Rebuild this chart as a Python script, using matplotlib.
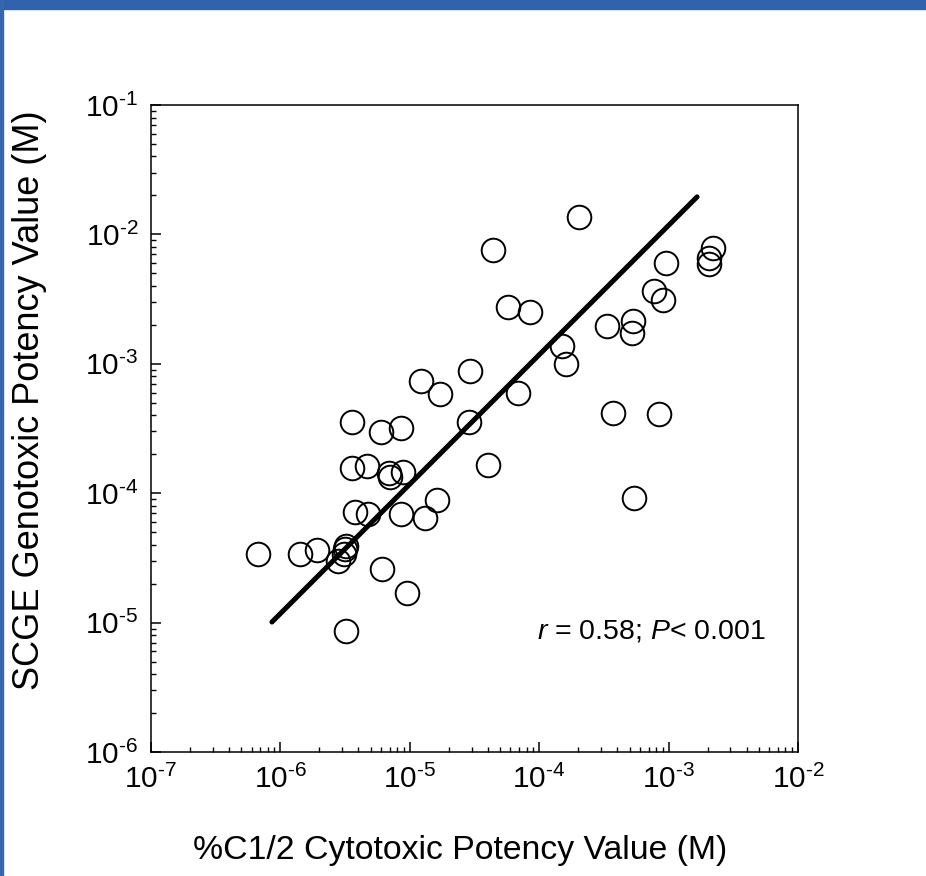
import matplotlib
matplotlib.use("Agg")
import matplotlib.pyplot as plt
from matplotlib.patches import Rectangle
from matplotlib.ticker import LogLocator, NullFormatter

plt.rcParams["font.family"] = ["Liberation Sans", "DejaVu Sans"]
plt.rcParams["mathtext.fontset"] = "custom"
plt.rcParams["mathtext.rm"] = "Liberation Sans"
plt.rcParams["mathtext.it"] = "Liberation Sans:italic"

# %C1/2 cytotoxic potency (M) vs SCGE genotoxic potency (M)
cyto = [6.7e-7, 1.42e-6, 1.92e-6, 3.21e-6, 3.15e-6, 3.10e-6, 2.79e-6, 3.21e-6,
        6.10e-6, 9.51e-6, 3.57e-6, 5.98e-6, 8.55e-6, 3.57e-6, 4.67e-6, 6.90e-6,
        7.03e-6, 8.86e-6, 4.02e-5, 3.77e-6, 4.75e-6, 8.55e-6, 1.31e-5, 1.62e-5,
        1.22e-5, 1.71e-5, 2.92e-5, 2.86e-5, 6.86e-5, 4.40e-5, 5.74e-5, 8.49e-5,
        1.50e-4, 1.61e-4, 2.03e-4, 3.34e-4, 3.72e-4, 5.31e-4, 5.21e-4, 5.41e-4,
        7.71e-4, 9.06e-4, 9.55e-4, 8.43e-4, 2.20e-3, 2.05e-3, 2.05e-3]
geno = [3.39e-5, 3.39e-5, 3.64e-5, 3.91e-5, 3.71e-5, 3.39e-5, 2.99e-5, 8.61e-6,
        2.59e-5, 1.69e-5, 3.55e-4, 2.97e-4, 3.19e-4, 1.57e-4, 1.62e-4, 1.43e-4,
        1.34e-4, 1.46e-4, 1.65e-4, 7.16e-5, 6.90e-5, 6.90e-5, 6.43e-5, 8.86e-5,
        7.36e-4, 5.84e-4, 8.80e-4, 3.55e-4, 5.94e-4, 7.57e-3, 2.75e-3, 2.51e-3,
        1.37e-3, 9.96e-4, 1.36e-2, 1.96e-3, 4.17e-4, 2.14e-3, 1.73e-3, 9.18e-5,
        3.65e-3, 3.11e-3, 6.01e-3, 4.09e-4, 7.85e-3, 6.57e-3, 5.90e-3]

# regression line end points
fit_x = [8.6e-7, 1.66e-3]
fit_y = [1.01e-5, 1.95e-2]

decades = [-7, -6, -5, -4, -3, -2]
ydecades = [-6, -5, -4, -3, -2, -1]


def dec_label(d):
    # Excel-style label with a short hyphen in the exponent
    return "10$^{\\mathregular{\u2010%d}}$" % abs(d)


fig = plt.figure(figsize=(9.26, 8.76), dpi=100)

# blue frame strips (top and left)
fig.patches.append(Rectangle((0, 1 - 9 / 876), 1, 9 / 876, transform=fig.transFigure,
                             color="#3062ad", zorder=0))
fig.patches.append(Rectangle((0, 0), 3 / 926, 1, transform=fig.transFigure,
                             color="#3567b0", zorder=0))

ax = fig.add_axes([151 / 926, 124 / 876, 647 / 926, 647 / 876])
ax.set_xscale("log")
ax.set_yscale("log")
ax.set_xlim(1e-7, 1e-2)
ax.set_ylim(1e-6, 1e-1)

ax.plot(fit_x, fit_y, color="black", linewidth=3.6, solid_capstyle="round", zorder=2)
ax.plot(cyto, geno, "o", markersize=17, markerfacecolor="none",
        markeredgecolor="black", markeredgewidth=1.4, zorder=3)

ax.set_xticks([10.0 ** d for d in decades])
ax.set_xticklabels([dec_label(d) for d in decades])
ax.set_yticks([10.0 ** d for d in ydecades])
ax.set_yticklabels([dec_label(d) for d in ydecades])
ax.xaxis.set_minor_locator(LogLocator(base=10, subs=range(2, 10), numticks=20))
ax.yaxis.set_minor_locator(LogLocator(base=10, subs=range(2, 10), numticks=20))
ax.xaxis.set_minor_formatter(NullFormatter())
ax.yaxis.set_minor_formatter(NullFormatter())

ax.tick_params(which="major", direction="in", length=7, width=1.1,
               labelsize=21.5, pad=9)
ax.tick_params(which="minor", direction="in", length=3.5, width=1.0)
for s in ax.spines.values():
    s.set_linewidth(1.1)

ax.set_xlabel("%C1/2 Cytotoxic Potency Value (M)", fontsize=24.3)
ax.xaxis.set_label_coords(0.478, -0.128)
ax.set_ylabel("SCGE Genotoxic Potency Value (M)", fontsize=26)
ax.yaxis.set_label_coords(-0.16, 0.544)

ax.text(0.95, 0.187, r"$\it{r}$ = 0.58; $\it{P}$< 0.001", transform=ax.transAxes,
        ha="right", va="center", fontsize=20.5)

fig.savefig("out.png", dpi=100)
